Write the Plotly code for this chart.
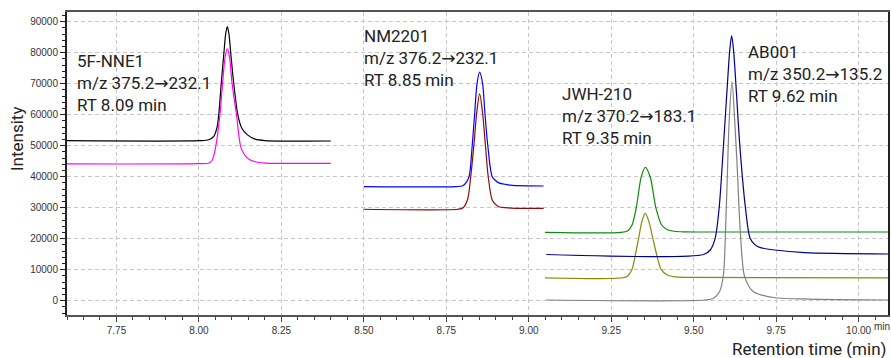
import plotly.graph_objects as go

# ---------------- data ----------------
# 5F-NNE1, m/z 375.2->232.1 (two traces)
nne1_black_t = [7.60, 8.00, 8.030, 8.045, 8.055, 8.060, 8.068, 8.076, 8.081, 8.086, 8.091, 8.096, 8.105, 8.118, 8.130, 8.148, 8.170, 8.200, 8.400]
nne1_black_i = [51600, 51600, 51900, 53000, 56000, 59900, 70600, 80300, 86000, 88400, 86000, 80300, 70600, 59900, 55600, 53400, 52100, 51650, 51500]
nne1_magenta_t = [7.60, 8.00, 8.030, 8.040, 8.050, 8.0636, 8.072, 8.079, 8.086, 8.093, 8.100, 8.114, 8.128, 8.148, 8.170, 8.200, 8.400]
nne1_magenta_i = [44100, 44200, 44400, 45300, 49200, 59900, 70500, 78300, 81200, 78300, 70500, 59900, 49200, 45900, 44800, 44400, 44300]

# NM2201, m/z 376.2->232.1
nm_blue_t = [8.500, 8.780, 8.800, 8.810, 8.819, 8.829, 8.836, 8.843, 8.851, 8.860, 8.867, 8.875, 8.889, 8.900, 8.909, 8.930, 8.950, 9.045]
nm_blue_i = [36800, 36800, 37100, 38100, 40000, 50780, 60450, 69900, 73700, 69900, 60450, 50780, 40000, 38700, 38000, 37500, 37200, 37000]
nm_red_t = [8.500, 8.785, 8.800, 8.814, 8.824, 8.834, 8.842, 8.851, 8.860, 8.868, 8.877, 8.889, 8.900, 8.909, 8.930, 8.960, 9.045]
nm_red_i = [29500, 29500, 29900, 32500, 40000, 50780, 60450, 66700, 60450, 50780, 40000, 32500, 31000, 30300, 30000, 29800, 29800]

# JWH-210, m/z 370.2->183.1
jwh_green_t = [9.049, 9.280, 9.300, 9.313, 9.326, 9.341, 9.353, 9.368, 9.385, 9.403, 9.420, 9.440, 9.470, 9.600, 10.089]
jwh_green_i = [22060, 22060, 22600, 24420, 30130, 40000, 43030, 40000, 30130, 24420, 22900, 22400, 22200, 22160, 22160]
jwh_olive_t = [9.049, 9.285, 9.300, 9.313, 9.323, 9.333, 9.343, 9.353, 9.364, 9.376, 9.388, 9.401, 9.420, 9.445, 9.500, 10.089]
jwh_olive_i = [7400, 7400, 8000, 10130, 14740, 20130, 25600, 28200, 25600, 20130, 14740, 10130, 8300, 7700, 7500, 7400]

# AB001, m/z 350.2->135.2
ab_navy_t = [9.053, 9.530, 9.550, 9.565, 9.577, 9.590, 9.602, 9.609, 9.615, 9.621, 9.628, 9.640, 9.657, 9.671, 9.686, 9.700, 9.746, 9.837, 10.089]
ab_navy_i = [14900, 14900, 16360, 20130, 29800, 49700, 69600, 80500, 85500, 80500, 69600, 49700, 29800, 20130, 18000, 17200, 16360, 15500, 15070]
ab_gray_t = [9.053, 9.535, 9.560, 9.578, 9.590, 9.597, 9.602, 9.607, 9.616, 9.625, 9.633, 9.640, 9.653, 9.668, 9.681, 9.700, 9.746, 9.850, 10.089]
ab_gray_i = [230, 230, 800, 2900, 8290, 24420, 40550, 56680, 70650, 56680, 40550, 24420, 8290, 4500, 2900, 2000, 970, 550, 230]

x_tick_vals = [7.75, 8.00, 8.25, 8.50, 8.75, 9.00, 9.25, 9.50, 9.75, 10.00]
x_tick_text = ["7.75", "8.00", "8.25", "8.50", "8.75", "9.00", "9.25", "9.50", "9.75", "10.00"]
y_tick_vals = [0, 10000, 20000, 30000, 40000, 50000, 60000, 70000, 80000, 90000]

ARROW = "<span style=\"font-family:'DejaVu Sans'\">→</span>"
labels = [
    ("5F-NNE1<br>m/z 375.2" + ARROW + "232.1<br>RT 8.09 min", 7.623, 70230),
    ("NM2201<br>m/z 376.2" + ARROW + "232.1<br>RT 8.85 min", 8.493, 78300),
    ("JWH-210<br>m/z 370.2" + ARROW + "183.1<br>RT 9.35 min", 9.095, 59580),
    ("AB001<br>m/z 350.2" + ARROW + "135.2<br>RT 9.62 min", 9.657, 73130),
]

series = [
    (nne1_black_t, nne1_black_i, "#000000"),
    (nne1_magenta_t, nne1_magenta_i, "#ff00ff"),
    (nm_blue_t, nm_blue_i, "#0000ff"),
    (nm_red_t, nm_red_i, "#8b0a0a"),
    (jwh_green_t, jwh_green_i, "#0f8a0f"),
    (jwh_olive_t, jwh_olive_i, "#8a8a00"),
    (ab_navy_t, ab_navy_i, "#000090"),
    (ab_gray_t, ab_gray_i, "#808080"),
]

fig = go.Figure()
for t, i, c in series:
    fig.add_trace(go.Scatter(x=t, y=i, mode="lines",
                             line=dict(color=c, width=1.2, shape="spline", smoothing=0.8),
                             hoverinfo="skip", showlegend=False))

tick_font = dict(family="Liberation Sans, Arial, sans-serif", size=10, color="#333333")
text_font = dict(family="Roboto, sans-serif", size=17, color="#222222")

fig.update_layout(
    width=891, height=358,
    margin=dict(l=67, r=1, t=12, b=43),
    paper_bgcolor="white", plot_bgcolor="white",
    showlegend=False,
)
fig.update_xaxes(
    range=[7.6, 10.089], tickmode="array", tickvals=x_tick_vals, ticktext=x_tick_text,
    ticks="outside", ticklen=5, tickwidth=1, tickcolor="#444444",
    tickfont=tick_font,
    showline=True, linecolor="#555555", linewidth=2, mirror=True,
    showgrid=True, gridcolor="#c8c8c8", gridwidth=1, griddash="4px,3px",
    zeroline=False,
    minor=dict(dtick=0.05, tick0=7.6, ticks="outside", ticklen=3, tickcolor="#444444", showgrid=False),
)
fig.update_yaxes(
    range=[-4600, 93100], tickmode="array", tickvals=y_tick_vals,
    ticktext=[str(v) for v in y_tick_vals],
    ticks="outside", ticklen=5, tickwidth=1, tickcolor="#222222",
    tickfont=tick_font,
    showline=True, linecolor="#222222", linewidth=2, mirror=True,
    showgrid=True, gridcolor="#c8c8c8", gridwidth=1, griddash="4px,3px",
    zeroline=False,
    minor=dict(dtick=2000, tick0=0, ticks="outside", ticklen=3, tickcolor="#222222", showgrid=False),
)

for txt, x, y in labels:
    fig.add_annotation(x=x, y=y, xref="x", yref="y", text=txt, showarrow=False,
                       xanchor="left", yanchor="middle", align="left", font=text_font)

fig.add_annotation(x=-0.0608, y=0.581, xref="paper", yref="paper", text="Intensity",
                   textangle=-90, showarrow=False, xanchor="center", yanchor="middle",
                   font=dict(family="Roboto, sans-serif", size=17, color="#222222"))
fig.add_annotation(x=1.0, y=-0.113, xref="paper", yref="paper", text="Retention time (min)",
                   showarrow=False, xanchor="right", yanchor="middle",
                   font=dict(family="Roboto, sans-serif", size=17, color="#222222"))
fig.add_annotation(x=0.9806, y=-0.0396, xref="paper", yref="paper", text="min",
                   showarrow=False, xanchor="left", yanchor="middle", font=tick_font)

fig.write_html("out.html", config={"displayModeBar": False},
               post_script="document.body.style.margin='0';document.body.style.overflow='hidden';")
